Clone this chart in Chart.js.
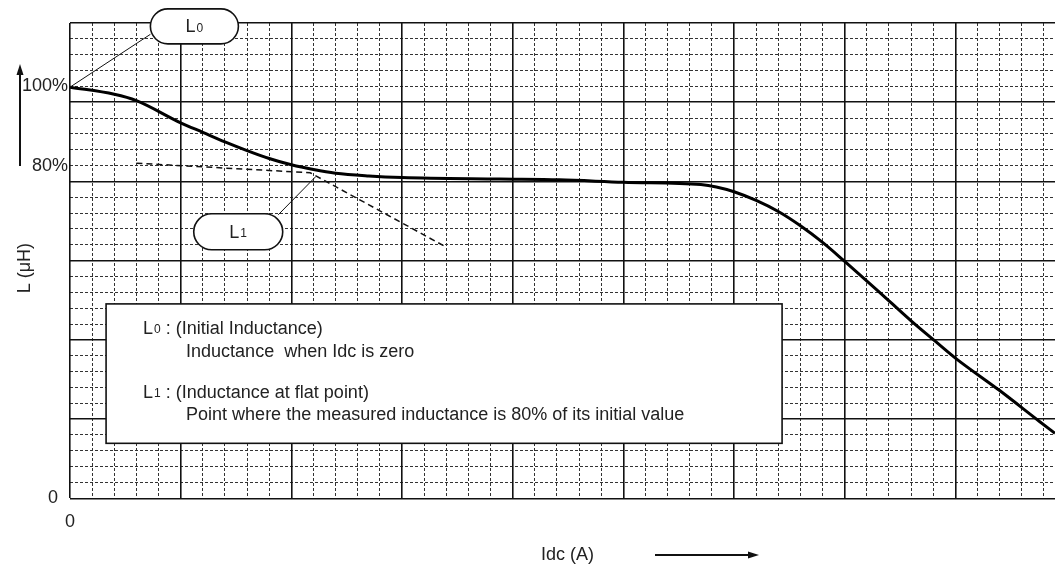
<!DOCTYPE html>
<html>
<head>
<meta charset="utf-8">
<script src="https://cdn.jsdelivr.net/npm/chart.js@4.4.1/dist/chart.umd.min.js"></script>
<style>
  html, body { margin: 0; padding: 0; background: #fff; }
  canvas { display: block; }
</style>
</head>
<body>
<canvas id="chart" width="1055" height="569"></canvas>
<script>
/* ── Data (grid units: one minor division = 1 on both axes) ── */
const X_MAX = 44.5;
const Y_MAX = 30;

const curveX = [0, 2.0, 3.0, 5.0, 6.0, 7.0, 8.0, 9.0, 10.0, 11.0, 12.0, 13.5, 15.0, 19.4, 22.1, 25.0, 28.5, 29.2, 30.0, 31.0, 32.0, 33.0, 34.0, 35.0, 36.5, 38.0, 39.1, 40.0, 42.0, 43.8, 44.5];
const curveY = [25.95, 25.5, 25.1, 23.7, 23.1, 22.5, 21.95, 21.45, 21.05, 20.75, 20.52, 20.35, 20.25, 20.15, 20.1, 19.95, 19.8, 19.65, 19.35, 18.8, 18.1, 17.2, 16.15, 14.95, 13.1, 11.2, 9.9, 8.85, 6.8, 4.85, 4.1];

const tangentX = [3.0, 10.85, 17.0];
const tangentY = [21.15, 20.55, 15.85];

const yTickValues = [0, 21, 26];
const yTickLabels = ['0  ', '80%', '100%'];
const xTickValues = [0];
const xTickLabels = ['0'];

const l0Point = [curveX[0], curveY[0]];
const l1Point = [11.1, 20.3];

const legendLines = [
  { main: 'L', sub: '0', rest: ' : (Initial Inductance)', indent: false },
  { main: 'Inductance  when Idc is zero', indent: true },
  { main: 'L', sub: '1', rest: ' : (Inductance at flat point)', indent: false },
  { main: 'Point where the measured inductance is 80% of its initial value', indent: true }
];

/* ── Helpers ── */
const FONT = '"Liberation Sans", Arial, Helvetica, sans-serif';
const TEXT = '#222';
const pts = (xs, ys) => xs.map((x, i) => ({ x, y: ys[i] }));
const range = n => Array.from({ length: n + 1 }, (_, i) => i);
const minorTicks = max => range(Math.floor(max)).filter(v => v % 5 !== 0).map(value => ({ value }));
const majorTicks = max => range(Math.floor(max)).filter(v => v % 5 === 0).map(value => ({ value }));

function gridScale(axis, max, ticks, dashed) {
  return {
    type: 'linear', axis, min: 0, max,
    position: axis === 'x' ? 'bottom' : 'left',
    afterBuildTicks: s => { s.ticks = ticks(max); },
    afterFit: s => { if (axis === 'x') s.height = 0; else s.width = 0; },
    ticks: { display: false },
    border: { display: false, dash: dashed ? [3, 2] : [] },
    grid: {
      drawTicks: false,
      color: dashed ? '#333' : '#111',
      lineWidth: dashed ? 1 : 1.6
    }
  };
}

function subText(ctx, x, y, main, sub, rest, size) {
  ctx.font = `${size}px ${FONT}`;
  ctx.fillText(main, x, y);
  x += ctx.measureText(main).width;
  if (!sub) return;
  ctx.font = `${Math.round(size * 0.64)}px ${FONT}`;
  ctx.fillText(sub, x + 1, y + 1);
  x += ctx.measureText(sub).width + 1;
  ctx.font = `${size}px ${FONT}`;
  if (rest) ctx.fillText(rest, x, y);
}

function pill(ctx, cx, cy, w, h) {
  const r = h / 2;
  ctx.beginPath();
  ctx.moveTo(cx - w / 2 + r, cy - r);
  ctx.lineTo(cx + w / 2 - r, cy - r);
  ctx.arc(cx + w / 2 - r, cy, r, -Math.PI / 2, Math.PI / 2);
  ctx.lineTo(cx - w / 2 + r, cy + r);
  ctx.arc(cx - w / 2 + r, cy, r, Math.PI / 2, Math.PI * 1.5);
  ctx.closePath();
  ctx.fillStyle = '#fff';
  ctx.fill();
  ctx.lineWidth = 1.6;
  ctx.strokeStyle = '#111';
  ctx.stroke();
}

function arrow(ctx, x0, y0, x1, y1) {
  const a = Math.atan2(y1 - y0, x1 - x0);
  const len = 11, half = 3.5;
  ctx.strokeStyle = '#111';
  ctx.fillStyle = '#111';
  ctx.lineWidth = 2;
  ctx.beginPath();
  ctx.moveTo(x0, y0);
  ctx.lineTo(x1 - Math.cos(a) * len, y1 - Math.sin(a) * len);
  ctx.stroke();
  ctx.beginPath();
  ctx.moveTo(x1, y1);
  ctx.lineTo(x1 - Math.cos(a) * len - Math.sin(a) * half, y1 - Math.sin(a) * len + Math.cos(a) * half);
  ctx.lineTo(x1 - Math.cos(a) * len + Math.sin(a) * half, y1 - Math.sin(a) * len - Math.cos(a) * half);
  ctx.closePath();
  ctx.fill();
}

/* ── Decorations: legend box, L0/L1 callouts, axis arrows ── */
const notes = {
  id: 'notes',
  beforeDatasetsDraw(chart) {
    const { ctx, scales: { x, y } } = chart;
    const bx0 = x.getPixelForValue(1.63), bx1 = x.getPixelForValue(32.17);
    const by0 = y.getPixelForValue(12.27), by1 = y.getPixelForValue(3.47);
    ctx.save();
    ctx.fillStyle = '#fff';
    ctx.fillRect(bx0, by0, bx1 - bx0, by1 - by0);
    ctx.lineWidth = 1.6;
    ctx.strokeStyle = '#111';
    ctx.strokeRect(bx0, by0, bx1 - bx0, by1 - by0);
    ctx.fillStyle = TEXT;
    ctx.textBaseline = 'middle';
    const rows = [25, 48, 89, 111];
    legendLines.forEach((l, i) => {
      subText(ctx, bx0 + (l.indent ? 80 : 37), by0 + rows[i], l.main, l.sub, l.rest, 18);
    });
    ctx.restore();
  },
  afterDatasetsDraw(chart) {
    const { ctx, scales: { x, y } } = chart;
    ctx.save();
    // L0 callout
    const p0x = x.getPixelForValue(l0Point[0]), p0y = y.getPixelForValue(l0Point[1]);
    const c0x = x.getPixelForValue(5.62), c0y = y.getPixelForValue(29.79);
    ctx.strokeStyle = '#111';
    ctx.lineWidth = 1;
    ctx.beginPath(); ctx.moveTo(c0x - 44, c0y + 8); ctx.lineTo(p0x, p0y); ctx.stroke();
    pill(ctx, c0x, c0y, 88, 35);
    // L1 callout
    const p1x = x.getPixelForValue(l1Point[0]), p1y = y.getPixelForValue(l1Point[1]);
    const c1x = x.getPixelForValue(7.6), c1y = y.getPixelForValue(16.82);
    ctx.lineWidth = 1;
    ctx.beginPath(); ctx.moveTo(c1x + 40, c1y - 17); ctx.lineTo(p1x, p1y); ctx.stroke();
    pill(ctx, c1x, c1y, 89, 36);
    ctx.fillStyle = TEXT;
    ctx.textBaseline = 'middle';
    subText(ctx, c0x - 9, c0y + 1, 'L', '0', '', 18);
    subText(ctx, c1x - 9, c1y + 1, 'L', '1', '', 18);
    ctx.restore();
  },
  afterDraw(chart) {
    const { ctx } = chart;
    ctx.save();
    arrow(ctx, 20, 166, 20, 64);
    arrow(ctx, 655, 555, 759, 555);
    ctx.restore();
  }
};

new Chart(document.getElementById('chart'), {
  type: 'line',
  data: {
    datasets: [
      {
        label: 'L',
        data: pts(curveX, curveY),
        borderColor: '#000',
        borderWidth: 3,
        pointRadius: 0,
        cubicInterpolationMode: 'monotone',
        xAxisID: 'x', yAxisID: 'y'
      },
      {
        label: 'tangent',
        data: pts(tangentX, tangentY),
        borderColor: '#111',
        borderWidth: 1.5,
        borderDash: [6, 4],
        pointRadius: 0,
        tension: 0,
        xAxisID: 'x', yAxisID: 'y'
      }
    ]
  },
  options: {
    responsive: false,
    animation: false,
    layout: { padding: { top: 23, right: 0, left: 0, bottom: 0 } },
    plugins: { legend: { display: false }, tooltip: { enabled: false } },
    scales: {
      x: {
        type: 'linear', min: 0, max: X_MAX, position: 'bottom',
        afterBuildTicks: s => { s.ticks = xTickValues.map(value => ({ value })); },
        afterFit: s => { s.height = 70.7; },
        grid: { display: false, drawTicks: false },
        border: { display: false },
        ticks: {
          padding: 13, color: TEXT, maxRotation: 0,
          font: { family: FONT, size: 18 },
          callback: (v, i) => xTickLabels[i]
        },
        title: {
          display: true, text: '  Idc (A)', color: TEXT,
          font: { family: FONT, size: 18 },
          padding: { top: 0, bottom: 3 }
        }
      },
      y: {
        type: 'linear', min: 0, max: Y_MAX, position: 'left',
        afterBuildTicks: s => { s.ticks = yTickValues.map(value => ({ value })); },
        afterFit: s => { s.width = 70; },
        grid: { display: false, drawTicks: false },
        border: { display: false },
        ticks: {
          padding: 2, color: TEXT,
          font: { family: FONT, size: 18 },
          callback: (v, i) => yTickLabels[i]
        },
        title: {
          display: true, text: 'L (μH)   ', color: TEXT,
          font: { family: FONT, size: 18 },
          padding: { top: 14, bottom: 0 }
        }
      },
      xMinor: gridScale('x', X_MAX, minorTicks, true),
      yMinor: gridScale('y', Y_MAX, minorTicks, true),
      xMajor: gridScale('x', X_MAX, majorTicks, false),
      yMajor: gridScale('y', Y_MAX, majorTicks, false)
    }
  },
  plugins: [notes]
});
</script>
</body>
</html>
